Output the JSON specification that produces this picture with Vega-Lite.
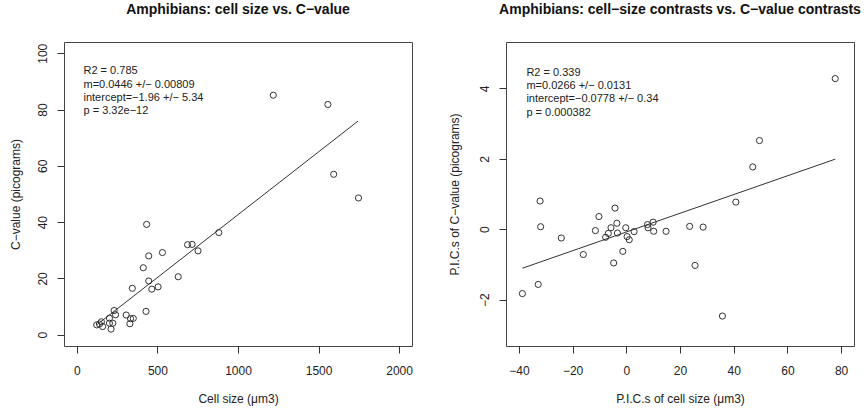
{
  "$schema": "https://vega.github.io/schema/vega-lite/v6.json",
  "background": "white",
  "padding": {"left": 8, "top": 2, "right": 5, "bottom": 5},
  "spacing": 94,
  "bounds": "flush",
  "config": {
    "font": "Liberation Sans",
    "view": {"stroke": "#444", "strokeWidth": 1},
    "axis": {
      "grid": false, "domain": false, "tickSize": 7, "tickColor": "#333", "tickWidth": 1,
      "labelFontSize": 12, "labelColor": "#222", "titleFontSize": 12, "titleFontWeight": "normal",
      "titleColor": "#222", "labelPadding": 8
    },
    "axisX": {"titlePadding": 17, "labelPadding": 12},
    "axisY": {"labelAngle": -90, "labelAlign": "center", "labelBaseline": "bottom", "titlePadding": 14},
    "title": {"fontSize": 14, "fontWeight": "bold", "color": "#111", "anchor": "middle", "baseline": "alphabetic", "offset": 25}
  },
  "datasets": {
    "raw": [
      {"cell": 1219, "cval": 85.1}, {"cell": 1558, "cval": 81.8}, {"cell": 1594, "cval": 57.0}, {"cell": 1748, "cval": 48.6},
      {"cell": 433, "cval": 39.2}, {"cell": 881, "cval": 36.3}, {"cell": 687, "cval": 32.0}, {"cell": 715, "cval": 32.1},
      {"cell": 752, "cval": 29.8}, {"cell": 531, "cval": 29.2}, {"cell": 446, "cval": 28.0}, {"cell": 412, "cval": 23.8},
      {"cell": 629, "cval": 20.6}, {"cell": 446, "cval": 19.1}, {"cell": 344, "cval": 16.5}, {"cell": 504, "cval": 17.0},
      {"cell": 465, "cval": 16.2}, {"cell": 429, "cval": 8.3}, {"cell": 123, "cval": 3.5}, {"cell": 140, "cval": 3.8},
      {"cell": 152, "cval": 4.6}, {"cell": 160, "cval": 2.9}, {"cell": 202, "cval": 5.9}, {"cell": 202, "cval": 4.1},
      {"cell": 223, "cval": 4.1}, {"cell": 212, "cval": 2.0}, {"cell": 231, "cval": 8.6}, {"cell": 240, "cval": 7.1},
      {"cell": 306, "cval": 7.0}, {"cell": 329, "cval": 3.9}, {"cell": 333, "cval": 5.7}, {"cell": 350, "cval": 5.8}
    ],
    "rawfit": [{"cell": 125, "cval": 3.6}, {"cell": 1745, "cval": 75.9}],
    "rawstats": [{"stats": "R2 = 0.785\nm=0.0446 +/− 0.00809\nintercept=−1.96 +/− 5.34\np = 3.32e−12"}],
    "pic": [
      {"dcell": 77.8, "dcval": 4.28}, {"dcell": 49.6, "dcval": 2.52}, {"dcell": 47.1, "dcval": 1.77}, {"dcell": 40.8, "dcval": 0.77},
      {"dcell": -32.1, "dcval": 0.80}, {"dcell": -31.9, "dcval": 0.07}, {"dcell": -24.2, "dcval": -0.25}, {"dcell": -16.0, "dcval": -0.72},
      {"dcell": -10.2, "dcval": 0.36}, {"dcell": -4.2, "dcval": 0.60}, {"dcell": -11.5, "dcval": -0.04}, {"dcell": -5.7, "dcval": 0.04},
      {"dcell": -6.7, "dcval": -0.12}, {"dcell": -7.7, "dcval": -0.23}, {"dcell": -3.5, "dcval": 0.17}, {"dcell": -3.3, "dcval": -0.11},
      {"dcell": -0.2, "dcval": 0.04}, {"dcell": 0.3, "dcval": -0.21}, {"dcell": 1.1, "dcval": -0.30}, {"dcell": 2.9, "dcval": -0.07},
      {"dcell": -1.3, "dcval": -0.63}, {"dcell": -4.7, "dcval": -0.96}, {"dcell": 7.9, "dcval": 0.13}, {"dcell": 8.1, "dcval": 0.04},
      {"dcell": 10.0, "dcval": 0.20}, {"dcell": 10.2, "dcval": -0.06}, {"dcell": 14.8, "dcval": -0.06}, {"dcell": 23.6, "dcval": 0.08},
      {"dcell": 28.6, "dcval": 0.06}, {"dcell": 25.6, "dcval": -1.03}, {"dcell": 35.8, "dcval": -2.47}, {"dcell": -32.8, "dcval": -1.57},
      {"dcell": -38.7, "dcval": -1.83}
    ],
    "picfit": [{"dcell": -38.7, "dcval": -1.11}, {"dcell": 77.8, "dcval": 1.99}],
    "picstats": [{"stats": "R2 = 0.339\nm=0.0266 +/− 0.0131\nintercept=−0.0778 +/− 0.34\np = 0.000382"}]
  },
  "hconcat": [
    {
      "width": 348, "height": 304,
      "title": "Amphibians: cell size vs. C−value",
      "layer": [
        {
          "data": {"name": "raw"},
          "mark": {"type": "point", "shape": "circle", "filled": false, "size": 38, "strokeWidth": 1, "color": "#333", "opacity": 1},
          "encoding": {
            "x": {"field": "cell", "type": "quantitative", "title": "Cell size (μm3)",
                  "scale": {"domain": [-80, 2080], "nice": false, "zero": false},
                  "axis": {"values": [0, 500, 1000, 1500, 2000], "format": "d"}},
            "y": {"field": "cval", "type": "quantitative", "title": "C−value (picograms)",
                  "scale": {"domain": [-4, 104], "nice": false, "zero": false},
                  "axis": {"values": [0, 20, 40, 60, 80, 100], "format": "d"}}
          }
        },
        {
          "data": {"name": "rawfit"},
          "mark": {"type": "line", "color": "#333", "strokeWidth": 1},
          "encoding": {
            "x": {"field": "cell", "type": "quantitative"},
            "y": {"field": "cval", "type": "quantitative"}
          }
        },
        {
          "data": {"name": "rawstats"},
          "mark": {"type": "text", "align": "left", "baseline": "top", "fontSize": 11, "lineBreak": "\n", "lineHeight": 13.3, "color": "#222"},
          "encoding": {
            "x": {"datum": 41, "type": "quantitative"},
            "y": {"datum": 95.7, "type": "quantitative"},
            "text": {"field": "stats"}
          }
        }
      ]
    },
    {
      "width": 348, "height": 304,
      "title": "Amphibians: cell−size contrasts vs. C−value contrasts",
      "layer": [
        {
          "data": {"name": "pic"},
          "mark": {"type": "point", "shape": "circle", "filled": false, "size": 38, "strokeWidth": 1, "color": "#333", "opacity": 1},
          "encoding": {
            "x": {"field": "dcell", "type": "quantitative", "title": "P.I.C.s of cell size (μm3)",
                  "scale": {"domain": [-44.8, 84.8], "nice": false, "zero": false},
                  "axis": {"values": [-40, -20, 0, 20, 40, 60, 80], "format": "d"}},
            "y": {"field": "dcval", "type": "quantitative", "title": "P.I.C.s of C−value (picograms)",
                  "scale": {"domain": [-3.32, 5.32], "nice": false, "zero": false},
                  "axis": {"values": [-2, 0, 2, 4], "format": "d", "titlePadding": 17}}
          }
        },
        {
          "data": {"name": "picfit"},
          "mark": {"type": "line", "color": "#333", "strokeWidth": 1},
          "encoding": {
            "x": {"field": "dcell", "type": "quantitative"},
            "y": {"field": "dcval", "type": "quantitative"}
          }
        },
        {
          "data": {"name": "picstats"},
          "mark": {"type": "text", "align": "left", "baseline": "top", "fontSize": 11, "lineBreak": "\n", "lineHeight": 13.3, "color": "#222"},
          "encoding": {
            "x": {"datum": -37.2, "type": "quantitative"},
            "y": {"datum": 4.62, "type": "quantitative"},
            "text": {"field": "stats"}
          }
        }
      ]
    }
  ]
}
